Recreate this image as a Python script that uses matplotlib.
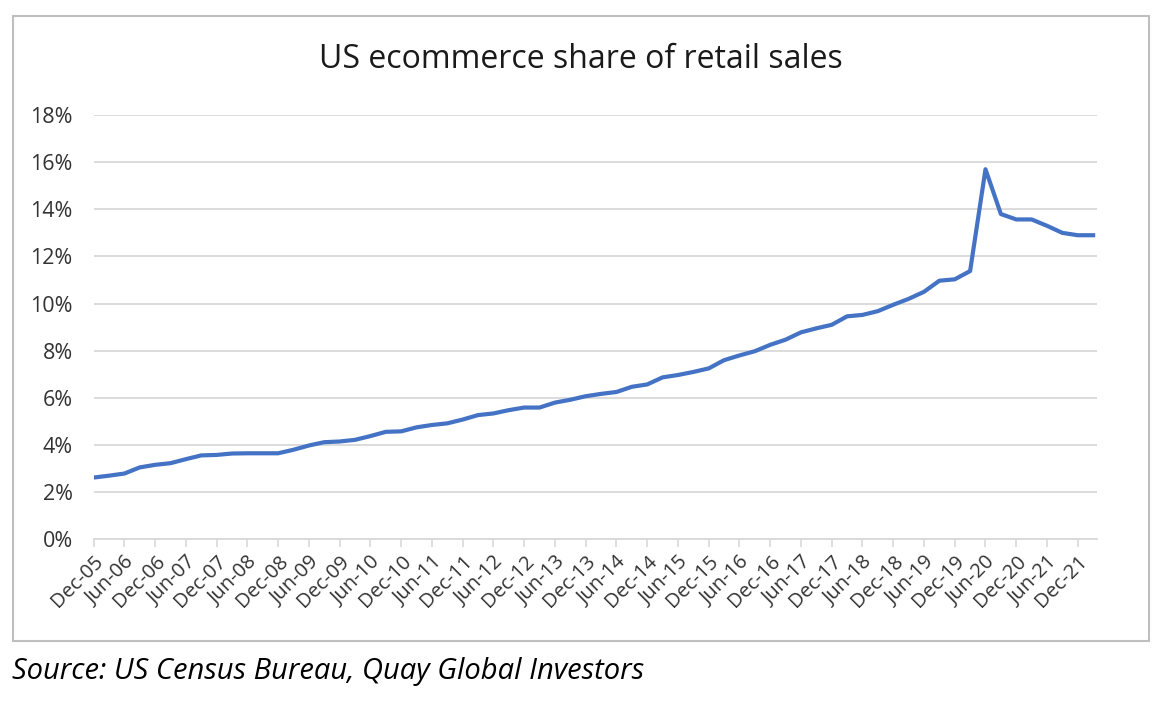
import matplotlib.pyplot as plt
from matplotlib.patches import Rectangle
from matplotlib.ticker import FuncFormatter

# quarterly ecommerce share (%), Dec-05 .. Mar-22
quarters = [
    "Dec-05", "Mar-06", "Jun-06", "Sep-06", "Dec-06", "Mar-07", "Jun-07", "Sep-07",
    "Dec-07", "Mar-08", "Jun-08", "Sep-08", "Dec-08", "Mar-09", "Jun-09", "Sep-09",
    "Dec-09", "Mar-10", "Jun-10", "Sep-10", "Dec-10", "Mar-11", "Jun-11", "Sep-11",
    "Dec-11", "Mar-12", "Jun-12", "Sep-12", "Dec-12", "Mar-13", "Jun-13", "Sep-13",
    "Dec-13", "Mar-14", "Jun-14", "Sep-14", "Dec-14", "Mar-15", "Jun-15", "Sep-15",
    "Dec-15", "Mar-16", "Jun-16", "Sep-16", "Dec-16", "Mar-17", "Jun-17", "Sep-17",
    "Dec-17", "Mar-18", "Jun-18", "Sep-18", "Dec-18", "Mar-19", "Jun-19", "Sep-19",
    "Dec-19", "Mar-20", "Jun-20", "Sep-20", "Dec-20", "Mar-21", "Jun-21", "Sep-21",
    "Dec-21", "Mar-22",
]
share = [
    2.62, 2.70, 2.79, 3.05, 3.16, 3.23, 3.40, 3.56,
    3.58, 3.64, 3.65, 3.65, 3.65, 3.80, 3.98, 4.12,
    4.15, 4.22, 4.38, 4.56, 4.58, 4.75, 4.85, 4.92,
    5.08, 5.27, 5.34, 5.48, 5.59, 5.59, 5.80, 5.92,
    6.07, 6.17, 6.25, 6.47, 6.57, 6.87, 6.97, 7.10,
    7.25, 7.60, 7.80, 7.98, 8.25, 8.47, 8.78, 8.95,
    9.10, 9.46, 9.52, 9.68, 9.95, 10.20, 10.50, 10.97,
    11.03, 11.38, 15.70, 13.80, 13.57, 13.57, 13.30, 13.00,
    12.90, 12.90,
]
y_ticks = [0, 2, 4, 6, 8, 10, 12, 14, 16, 18]

plt.rcParams['font.family'] = ['Open Sans', 'DejaVu Sans']

fig = plt.figure(figsize=(11.76, 7.10), dpi=100)
ax = fig.add_axes([0.0796, 0.2404, 0.8532, 0.5976])

x = list(range(len(share)))
ax.plot(x, share, color="#4472C4", linewidth=3.0, solid_joinstyle='round')

ax.set_xlim(0, len(share) - 1 + 0.25)
ax.set_ylim(0, 18)
ax.set_yticks(y_ticks)
ax.yaxis.set_major_formatter(FuncFormatter(lambda v, p: f"{v:.0f}%"))
ax.grid(axis='y', color="#d9d9d9", linewidth=1.3)
ax.set_axisbelow(True)

tick_pos = x[::2]
ax.set_xticks(tick_pos)
ax.set_xticklabels([quarters[i] for i in tick_pos], rotation=45, ha='right',
                   va='top', rotation_mode='anchor')

for s in ['top', 'right', 'left']:
    ax.spines[s].set_visible(False)
ax.spines['bottom'].set_color("#d9d9d9")
ax.spines['bottom'].set_linewidth(1.3)
ax.tick_params(axis='x', colors="#d9d9d9", length=6, width=1.2, labelcolor="#333333",
               labelsize=14.5, pad=3)
ax.tick_params(axis='y', length=0, labelcolor="#333333", labelsize=15.5, pad=15)

fig.text(581 / 1176, 1 - 60 / 710, "US ecommerce share of retail sales",
         fontsize=23, color="#1a1a1a", ha='center', va='center')

# outer chart border
fig.patches.append(Rectangle((13 / 1176, 1 - 641 / 710), 1136 / 1176, 625 / 710,
                             transform=fig.transFigure, fill=False,
                             edgecolor="#bfbfbf", linewidth=1.5))

fig.text(12 / 1176, 1 - 672 / 710, "Source: US Census Bureau, Quay Global Investors",
         fontsize=21, style='italic', color="#000000", va='center', ha='left')

plt.savefig("out.png", dpi=100)
